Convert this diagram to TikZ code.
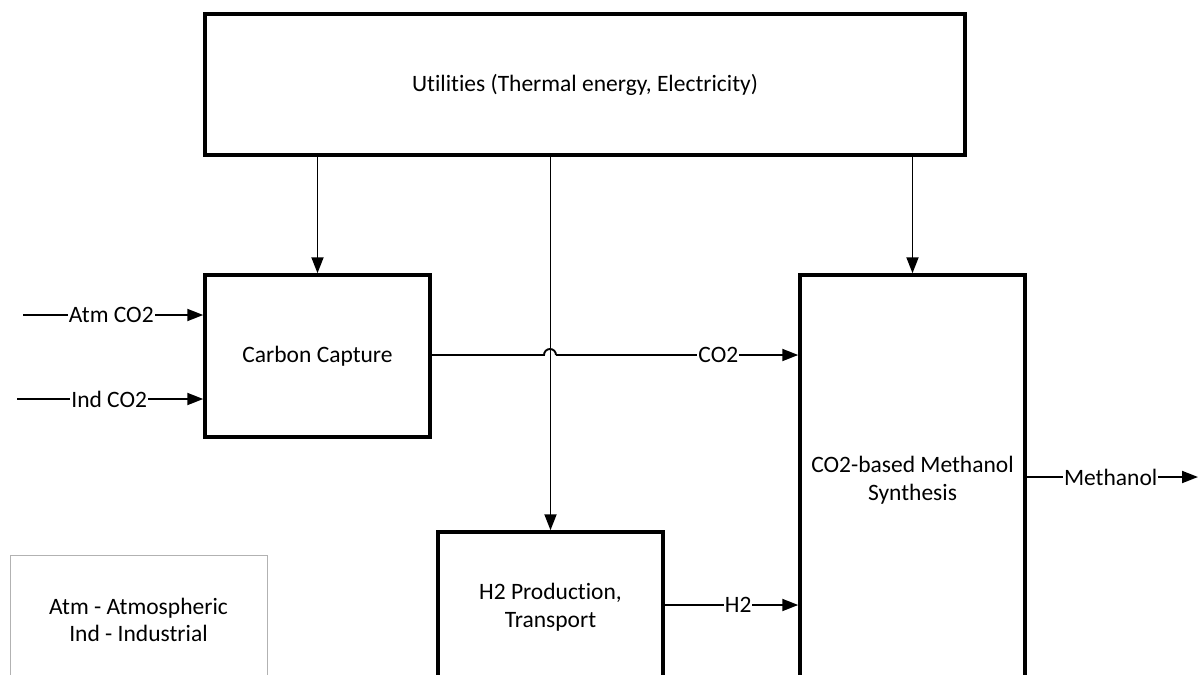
\documentclass[tikz,border=0pt]{standalone}
\usepackage{fontspec}
\setmainfont{Carlito}[Ligatures=NoCommon]
\usetikzlibrary{arrows.meta}
\begin{document}
\begin{tikzpicture}[x=1pt,y=-1pt,
  blk/.style={draw,line width=3.5pt,inner sep=0pt,align=center,font=\fontsize{23.5}{28}\selectfont},
  flow/.style={line width=1.9pt,-{Triangle[length=16pt,width=12pt]}},
  lab/.style={fill=white,inner sep=1pt,font=\fontsize{23.5}{28}\selectfont}]
\useasboundingbox (0,0) rectangle (1200,675);
\clip (0,0) rectangle (1200,675);
\node[blk,minimum width=760pt,minimum height=141pt] (util) at (585,84.5) {Utilities (Thermal energy, Electricity)};
\node[blk,minimum width=225pt,minimum height=162pt] (cc) at (317.5,356) {Carbon Capture};
\node[blk,minimum width=225pt,minimum height=410pt] (meth) at (912.5,480) {CO2-based Methanol\\Synthesis};
\node[blk,minimum width=225pt,minimum height=150pt] (h2) at (550.5,607) {H2 Production,\\Transport};
\node[draw=black!30,line width=1pt,minimum width=257pt,minimum height=130pt,inner sep=0pt,align=center,font=\fontsize{23.5}{27}\selectfont] (leg) at (138.5,620) {Atm - Atmospheric\\Ind - Industrial};
% utilities arrows
\draw[flow] (util.south -| cc) -- (cc.north);
\draw[flow] (util.south -| h2) -- (h2.north);
\draw[flow] (util.south -| meth) -- (meth.north);
% inputs
\coordinate (atm) at (23,315);
\coordinate (ind) at (17,399);
\draw[flow] (atm) -- node[lab,pos=0.49]{Atm CO2} (atm -| cc.west);
\draw[flow] (ind) -- node[lab,pos=0.495]{Ind CO2} (ind -| cc.west);
% CO2 with hop
\coordinate (hopL) at (544,355);
\coordinate (hopR) at (556,355);
\draw[line width=1.9pt] (hopL -| cc.east) -- (hopL) arc[start angle=180,end angle=0,radius=6pt];
\draw[flow] (hopR) -- node[lab,pos=0.67]{CO2} (hopR -| meth.west);
% H2
\coordinate (h2y) at (663,605);
\draw[flow] (h2y -| h2.east) -- node[lab,pos=0.55]{H2} (h2y -| meth.west);
% Methanol
\coordinate (mout) at (1198,477);
\draw[flow] (mout -| meth.east) -- node[lab,pos=0.49]{Methanol} (mout);
\end{tikzpicture}
\end{document}
